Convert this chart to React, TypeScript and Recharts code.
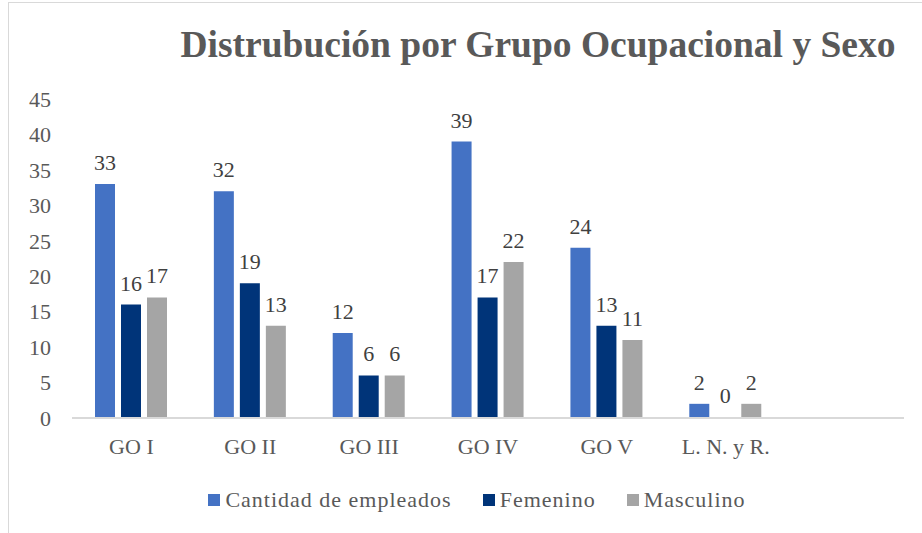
import { BarChart, Bar, XAxis, YAxis, Legend, LabelList, Cell } from 'recharts';

const categories = ['GO I', 'GO II', 'GO III', 'GO IV', 'GO V', 'L. N. y R.', ''];
const cantidad = [33, 32, 12, 39, 24, 2, null];
const femenino = [16, 19, 6, 17, 13, 0, null];
const masculino = [17, 13, 6, 22, 11, 2, null];
const yTicks = [0, 5, 10, 15, 20, 25, 30, 35, 40, 45];

const seriesInfo = [
    { key: 'cantidad', name: 'Cantidad de empleados', color: '#4472C4' },
    { key: 'femenino', name: 'Femenino', color: '#003479' },
    { key: 'masculino', name: 'Masculino', color: '#A5A5A5' },
];

const data = categories.map((c, i) => ({
    name: c,
    cantidad: cantidad[i],
    femenino: femenino[i],
    masculino: masculino[i],
}));

const FONT = '"Liberation Serif", "Times New Roman", serif';
const TEXT = '#595959';

const LegendContent = () => (
    <div style={{ display: 'flex', justifyContent: 'center', paddingLeft: 72, height: 25 }}>
        {seriesInfo.map((s) => (
            <div key={s.key} style={{ display: 'flex', alignItems: 'center', marginRight: 31 }}>
                <span style={{ width: 12, height: 12, background: s.color, marginRight: 5 }} />
                <span style={{ fontFamily: FONT, fontSize: 22, color: TEXT, letterSpacing: 1 }}>{s.name}</span>
            </div>
        ))}
    </div>
);

const fmt = (v: any) => (v === null || v === undefined ? '' : v);

const App = () => {
    return (
        <div
            style={{
                position: 'absolute',
                left: 8,
                top: 2,
                width: 913,
                height: 530,
                borderTop: '1px solid #d9d9d9',
                borderLeft: '1px solid #d9d9d9',
                background: '#fff',
                fontFamily: FONT,
            }}
        >
            <div
                style={{
                    position: 'absolute',
                    left: 0,
                    right: 0,
                    top: 20,
                    paddingLeft: 145,
                    textAlign: 'center',
                    fontFamily: FONT,
                    fontWeight: 'bold',
                    fontSize: 37.5,
                    color: TEXT,
                    whiteSpace: 'nowrap',
                }}
            >
                Distrubución por Grupo Ocupacional y Sexo
            </div>
            <BarChart
                width={912}
                height={529}
                data={data}
                margin={{ top: 96, right: 17, bottom: 0, left: 0 }}
                barSize={20}
                barGap={6}
                style={{ position: 'absolute', left: 0, top: 0 }}
            >
                <XAxis
                    dataKey="name"
                    tickLine={false}
                    axisLine={{ stroke: '#d9d9d9', strokeWidth: 2 }}
                    tick={{ fontSize: 22, fill: TEXT, fontFamily: FONT }}
                    tickMargin={14}
                    height={89}
                />
                <YAxis
                    domain={[0, 45]}
                    ticks={yTicks}
                    tickLine={false}
                    axisLine={false}
                    width={63}
                    tickMargin={15}
                    tick={{ fontSize: 22, fill: TEXT, fontFamily: FONT }}
                />
                <Legend verticalAlign="bottom" content={<LegendContent />} wrapperStyle={{ bottom: 20 }} />
                {seriesInfo.map((s) => (
                    <Bar
                        key={s.key}
                        dataKey={s.key}
                        name={s.name}
                        fill={s.color}
                        minPointSize={1}
                        isAnimationActive={false}
                    >
                        {data.map((d: any, i) => (
                            <Cell key={i} fill={d[s.key] === 0 ? 'transparent' : s.color} />
                        ))}
                        <LabelList
                            dataKey={s.key}
                            position="top"
                            offset={14}
                            formatter={fmt}
                            style={{ fontSize: 22, fill: '#404040', fontFamily: FONT }}
                        />
                    </Bar>
                ))}
            </BarChart>
        </div>
    );
};

export default App;
